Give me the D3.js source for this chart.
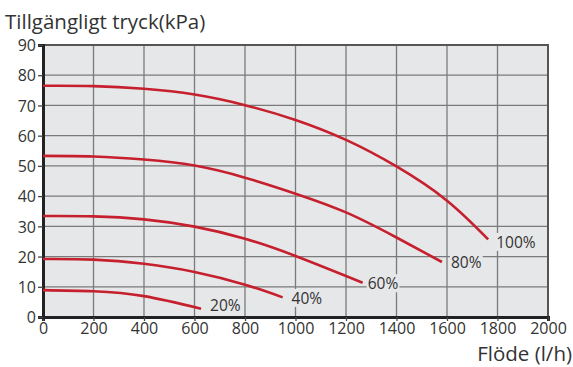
<!DOCTYPE html>
<html>
<head>
<meta charset="utf-8">
<script src="https://cdn.jsdelivr.net/npm/d3@7"></script>
<style>
  body { margin: 0; background: #fff; }
  text { font-family: "Open Sans", "Noto Sans", sans-serif; fill: #333; }
</style>
</head>
<body>
<script>
// flow (l/h) sample points per curve, pressure (kPa)
const flow100 = [0, 200, 400, 600, 800, 1000, 1200, 1400, 1600, 1763];
const kpa100 = [76.5, 76.4, 75.5, 73.6, 70.1, 65.2, 58.6, 49.8, 38.5, 25.7];
const flow80 = [0, 200, 400, 600, 800, 1000, 1200, 1400, 1580];
const kpa80 = [53.3, 53.1, 52.1, 50.1, 46.1, 40.8, 34.6, 26.3, 18.2];
const flow60 = [0, 200, 400, 600, 800, 1000, 1266];
const kpa60 = [33.4, 33.3, 32.3, 29.9, 25.9, 20.2, 11.35];
const flow40 = [0, 200, 400, 600, 800, 949];
const kpa40 = [19.2, 19.0, 17.6, 14.9, 10.7, 6.5];
const flow20 = [0, 200, 400, 626];
const kpa20 = [8.9, 8.5, 6.9, 2.75];
const seriesNames = ["100%", "80%", "60%", "40%", "20%"];

const xTicks = d3.range(0, 2001, 200);
const yTicks = d3.range(0, 91, 10);

let margin = { top: 45, right: 25, bottom: 50, left: 43 };

let x = d3.scaleLinear().domain([0, 2000]).range([0, 505]);
let y = d3.scaleLinear().domain([0, 90]).range([272, 0]);

let svg = d3.select("body").append("svg")
    .attr("width", 573)
    .attr("height", 367);

let g = svg.append("g")
    .attr("transform", "translate(" + margin.left + "," + margin.top + ")");

// background
g.append("rect")
    .attr("width", x(2000))
    .attr("height", y(0))
    .attr("fill", "#e6e7e9");

// grid
g.selectAll(".vgrid").data(xTicks.slice(1))
    .enter().append("line")
    .attr("x1", d => x(d)).attr("x2", d => x(d))
    .attr("y1", 0).attr("y2", y(0))
    .attr("stroke", "#7a7a7a").attr("stroke-width", 1.3);

g.selectAll(".hgrid").data(yTicks.slice(1))
    .enter().append("line")
    .attr("x1", 0).attr("x2", x(2000))
    .attr("y1", d => y(d)).attr("y2", d => y(d))
    .attr("stroke", "#7a7a7a").attr("stroke-width", 1.3);

// right/top border
g.append("path")
    .attr("d", "M0," + y(90) + "H" + x(2000) + "V" + y(0))
    .attr("fill", "none")
    .attr("stroke", "#555").attr("stroke-width", 2);

// axes
let xAxis = g.append("g")
    .attr("transform", "translate(0," + y(0) + ")")
    .call(d3.axisBottom(x).tickValues(xTicks).tickSize(4).tickPadding(2).tickFormat(d3.format("d")));
let yAxis = g.append("g")
    .call(d3.axisLeft(y).tickValues(yTicks).tickSize(5).tickPadding(2));

[xAxis, yAxis].forEach(a => {
  a.select(".domain").attr("stroke", "#222").attr("stroke-width", 3);
  a.selectAll(".tick line").attr("stroke", "#444").attr("stroke-width", 1.3);
  a.selectAll(".tick text")
    .attr("fill", "#333")
    .style("font-size", "16px")
    .style("font-family", "'Open Sans', 'Noto Sans', sans-serif");
});
yAxis.selectAll(".tick text").attr("dy", "0.36em");

// curves
let curves = [
  [flow100, kpa100], [flow80, kpa80], [flow60, kpa60], [flow40, kpa40], [flow20, kpa20]
];

let line = d3.line()
    .x(d => x(d[0]))
    .y(d => y(d[1]))
    .curve(d3.curveNatural);

let labelOffset = [[8, 3], [9, 0], [5, 1], [9, 1], [9, -3]];

curves.forEach((c, i) => {
  let pts = c[0].map((f, j) => [f, c[1][j]]);
  g.append("path")
    .datum(pts)
    .attr("d", line)
    .attr("fill", "none")
    .attr("stroke", "#c6202e")
    .attr("stroke-width", 2.6);

  let last = pts[pts.length - 1];
  let lbl = g.append("g")
    .attr("transform", "translate(" + (x(last[0]) + labelOffset[i][0]) + "," + (y(last[1]) + labelOffset[i][1]) + ")");
  let t = lbl.append("text")
    .attr("dy", "0.36em")
    .style("font-size", "15.5px")
    .text(seriesNames[i]);
  let bb = t.node().getBBox();
  lbl.insert("rect", "text")
    .attr("x", bb.x - 1).attr("y", bb.y + 2)
    .attr("width", bb.width + 2).attr("height", bb.height - 4)
    .attr("fill", "#e6e7e9");
});

// titles
svg.append("text")
    .attr("x", 5).attr("y", 29)
    .style("font-size", "20.5px")
    .text("Tillgängligt tryck(kPa)");

svg.append("text")
    .attr("x", 572).attr("y", 361)
    .attr("text-anchor", "end")
    .style("font-size", "20.5px")
    .text("Flöde (l/h)");
</script>
</body>
</html>
